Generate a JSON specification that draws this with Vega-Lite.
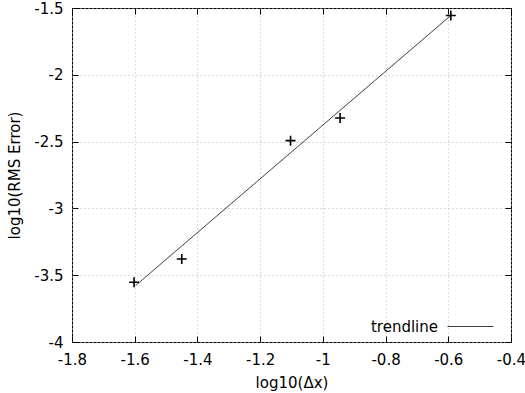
{
  "$schema": "https://vega.github.io/schema/vega-lite/v6.json",
  "width": 439,
  "height": 334,
  "autosize": {"type": "none"},
  "padding": {"left": 72, "top": 8, "right": 14, "bottom": 51},
  "background": "white",
  "config": {
    "view": {"stroke": "black", "strokeWidth": 1},
    "font": "DejaVu Sans",
    "axis": {
      "labelFont": "DejaVu Sans",
      "labelFontSize": 15,
      "labelColor": "black",
      "titleFont": "DejaVu Sans",
      "titleFontSize": 15,
      "titleFontWeight": "normal",
      "titleColor": "black",
      "domain": false,
      "tickColor": "black",
      "tickSize": -6,
      "gridColor": "#b8b8b8",
      "gridDash": [1, 3],
      "gridWidth": 1
    },
    "legend": {
      "labelFont": "DejaVu Sans",
      "labelFontSize": 15,
      "labelColor": "black"
    }
  },
  "datasets": {
    "pts": [
      {"x": -1.602, "y": -3.553},
      {"x": -1.450, "y": -3.379},
      {"x": -1.103, "y": -2.493},
      {"x": -0.945, "y": -2.323},
      {"x": -0.592, "y": -1.556}
    ],
    "trend": [
      {"x": -1.596, "y": -3.575, "series": "trendline"},
      {"x": -0.594, "y": -1.560, "series": "trendline"}
    ]
  },
  "resolve": {"axis": {"x": "independent", "y": "independent"}},
  "layer": [
    {
      "data": {"name": "trend"},
      "mark": {"type": "line", "strokeWidth": 1},
      "encoding": {
        "x": {
          "field": "x", "type": "quantitative",
          "scale": {"domain": [-1.8, -0.4], "nice": false, "zero": false},
          "axis": {
            "orient": "bottom", "title": "log10(Δx)",
            "values": [-1.8, -1.6, -1.4, -1.2, -1, -0.8, -0.6, -0.4],
            "labelExpr": "datum.value + ''",
            "labelPadding": 16, "titlePadding": 8, "labelFlush": false
          }
        },
        "y": {
          "field": "y", "type": "quantitative",
          "scale": {"domain": [-4, -1.5], "nice": false, "zero": false},
          "axis": {
            "orient": "left", "title": "log10(RMS Error)",
            "values": [-4, -3.5, -3, -2.5, -2, -1.5],
            "labelExpr": "datum.value + ''",
            "labelPadding": 15, "titlePadding": 11, "labelFlush": false
          }
        },
        "color": {
          "field": "series", "type": "nominal",
          "scale": {"range": ["#404040"]},
          "legend": {
            "title": null,
            "orient": "none",
            "legendX": 375,
            "legendY": 295,
            "symbolType": "stroke",
            "symbolSize": 2116,
            "symbolStrokeWidth": 1,
            "labelAlign": "right",
            "labelOffset": -56,
            "padding": 0
          }
        }
      }
    },
    {
      "data": {"name": "pts"},
      "mark": {
        "type": "point",
        "shape": "M-1,0L1,0M0,-1L0,1",
        "size": 100,
        "strokeWidth": 1.6,
        "color": "black",
        "filled": false,
        "opacity": 1
      },
      "encoding": {
        "x": {
          "field": "x", "type": "quantitative",
          "scale": {"domain": [-1.8, -0.4], "nice": false, "zero": false},
          "axis": {
            "orient": "top", "title": null, "labels": false, "grid": false,
            "values": [-1.8, -1.6, -1.4, -1.2, -1, -0.8, -0.6, -0.4]
          }
        },
        "y": {
          "field": "y", "type": "quantitative",
          "scale": {"domain": [-4, -1.5], "nice": false, "zero": false},
          "axis": {
            "orient": "right", "title": null, "labels": false, "grid": false,
            "values": [-4, -3.5, -3, -2.5, -2, -1.5]
          }
        }
      }
    }
  ]
}
